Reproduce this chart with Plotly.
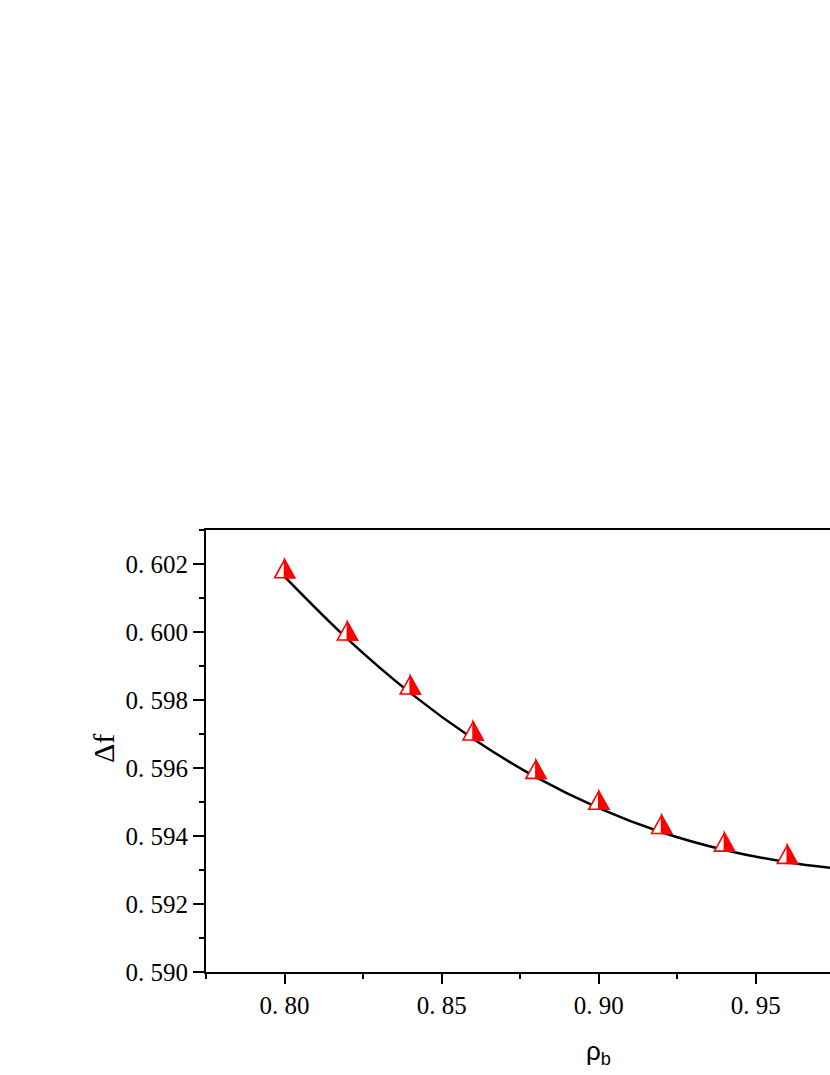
import plotly.graph_objects as go

# Data
rho_b = [0.80, 0.82, 0.84, 0.86, 0.88, 0.90, 0.92, 0.94, 0.96]
delta_f = [0.60186, 0.60003, 0.59844, 0.59709, 0.59596, 0.59505, 0.59434, 0.59382, 0.59346]

fit_x = [0.80, 0.82, 0.84, 0.86, 0.88, 0.90, 0.92, 0.94, 0.96, 0.98]
fit_y = [0.60163, 0.59980, 0.59821, 0.59686, 0.59573, 0.59482, 0.59411, 0.59359, 0.59323, 0.59300]

x_ticks = [0.80, 0.85, 0.90, 0.95]
x_ticktext = ["0. 80", "0. 85", "0. 90", "0. 95"]
x_minor = [0.775, 0.825, 0.875, 0.925]
y_ticks = [0.590, 0.592, 0.594, 0.596, 0.598, 0.600, 0.602]
y_ticktext = ["0. 590", "0. 592", "0. 594", "0. 596", "0. 598", "0. 600", "0. 602"]
y_minor = [0.591, 0.593, 0.595, 0.597, 0.599, 0.601, 0.603]

RED = "#ff0000"
TICKFONT = dict(family="Liberation Serif", size=25, color="black")

fig = go.Figure()

fig.add_trace(go.Scatter(
    x=fit_x, y=fit_y, mode="lines",
    line=dict(color="black", width=2.5, shape="spline", smoothing=1.0),
    hoverinfo="skip", showlegend=False,
))

# invisible markers for hover
fig.add_trace(go.Scatter(
    x=rho_b, y=delta_f, mode="markers",
    marker=dict(size=18, color="rgba(0,0,0,0)"),
    showlegend=False,
))

# half-filled triangle markers drawn as pixel-sized shapes anchored at data points
shapes = []
for xv, yv in zip(rho_b, delta_f):
    shapes.append(dict(
        type="path", xref="x", yref="y", xsizemode="pixel", ysizemode="pixel",
        xanchor=xv, yanchor=yv,
        path="M -10,-9 L 10,-9 L 0,9 Z",
        fillcolor="white", line=dict(color=RED, width=1.6), layer="above",
    ))
    shapes.append(dict(
        type="path", xref="x", yref="y", xsizemode="pixel", ysizemode="pixel",
        xanchor=xv, yanchor=yv,
        path="M 0,-9 L 10,-9 L 0,9 Z",
        fillcolor=RED, line=dict(color=RED, width=1.6), layer="above",
    ))

fig.update_layout(
    width=830, height=1075,
    margin=dict(l=206, r=0, t=530, b=103),
    paper_bgcolor="white", plot_bgcolor="white",
    showlegend=False,
    shapes=shapes,
    xaxis=dict(
        range=[0.775, 0.9736], showgrid=False, zeroline=False,
        showline=True, linecolor="black", linewidth=2, mirror=True,
        tickmode="array", tickvals=x_ticks, ticktext=x_ticktext,
        ticks="outside", ticklen=10, tickwidth=2, tickcolor="black",
        tickfont=TICKFONT,
        minor=dict(tickmode="array", tickvals=x_minor, ticks="outside",
                   ticklen=5, tickwidth=2, tickcolor="black", showgrid=False),
    ),
    yaxis=dict(
        range=[0.590, 0.603], showgrid=False, zeroline=False,
        showline=True, linecolor="black", linewidth=2, mirror=False,
        tickmode="array", tickvals=y_ticks, ticktext=y_ticktext,
        ticks="outside", ticklen=11, tickwidth=2, tickcolor="black",
        tickfont=TICKFONT,
        minor=dict(tickmode="array", tickvals=y_minor, ticks="outside",
                   ticklen=5, tickwidth=2, tickcolor="black", showgrid=False),
    ),
    annotations=[
        dict(text="Δf", xref="paper", yref="paper", x=-0.163, y=0.505,
             textangle=-90, showarrow=False, xanchor="center", yanchor="middle",
             font=dict(family="Liberation Serif", size=30, color="black")),
        dict(text="ρ<sub>b</sub>", xref="x", yref="paper", x=0.90, y=-0.183,
             showarrow=False, xanchor="center", yanchor="middle",
             font=dict(family="Liberation Sans", size=26, color="black")),
    ],
)

fig.write_html(
    "out.html",
    config={"displayModeBar": False},
    post_script="document.body.style.margin='0';document.body.style.overflow='hidden';",
)
